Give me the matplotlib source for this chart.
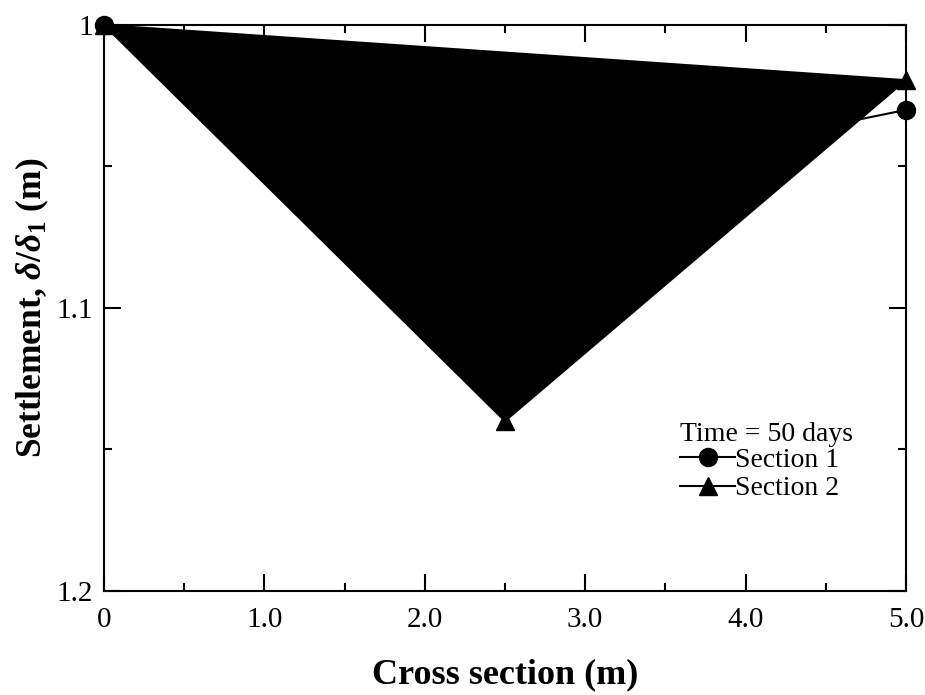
import numpy as np
import matplotlib.pyplot as plt
from matplotlib.ticker import MultipleLocator, FixedLocator

plt.rcParams['font.family'] = 'Liberation Serif'
plt.rcParams['mathtext.fontset'] = 'custom'
plt.rcParams['mathtext.rm'] = 'Liberation Serif:bold'
plt.rcParams['mathtext.it'] = 'Liberation Serif:italic:bold'
plt.rcParams['mathtext.bf'] = 'Liberation Serif:bold'

x = [0, 2.5, 5]
sec1 = [1.0, 1.059, 1.030]
sec2 = [1.0, 1.140, 1.0195]

xticks = [0, 1, 2, 3, 4, 5]
xticklabels = ['0', '1.0', '2.0', '3.0', '4.0', '5.0']
yticks = [1.0, 1.1, 1.2]
yticklabels = ['1', '1.1', '1.2']

fig = plt.figure(figsize=(9.25, 6.95), dpi=100)
ax = fig.add_axes([0.1124, 0.150, 0.867, 0.814])

ax.fill(x, sec2, color='k', lw=0)
ax.plot(x, sec1, 'k-', marker='o', ms=13, lw=1.5, label='Section 1', clip_on=False, zorder=3)
ax.plot(x, sec2, 'k-', marker='^', ms=13, lw=1.5, label='Section 2', clip_on=False, zorder=3)
# closing edge of the filled polygon
ax.plot([x[0], x[-1]], [sec2[0], sec2[-1]], 'k-', lw=1.5)

ax.set_xlim(0, 5)
ax.set_ylim(1.2, 1.0)
ax.set_xticks(xticks)
ax.set_xticklabels(xticklabels)
ax.set_yticks(yticks)
ax.set_yticklabels(yticklabels)
ax.xaxis.set_minor_locator(MultipleLocator(0.5))
ax.yaxis.set_minor_locator(FixedLocator([1.05, 1.15]))
ax.tick_params(which='both', direction='in', top=True, right=True, width=1.5, labelsize=21)
ax.tick_params(axis='x', pad=12)
ax.tick_params(axis='y', pad=8)
ax.tick_params(which='major', length=12)
ax.tick_params(which='minor', length=6)
for s in ax.spines.values():
    s.set_linewidth(1.5)

ax.set_xlabel('Cross section (m)', fontsize=26, fontweight='bold', labelpad=18)
ax.set_ylabel(r'Settlement, $\delta/\delta_{\mathit{1}}$ (m)', fontsize=25.5, fontweight='bold', labelpad=4)

leg = ax.legend(title='Time = 50 days', loc='upper left', bbox_to_anchor=(0.718, 0.298),
                frameon=False, fontsize=20, title_fontsize=20, handlelength=2.0,
                handletextpad=0.0, labelspacing=0.12, borderpad=0, borderaxespad=0)
leg._legend_box.align = 'left'
leg._legend_box.sep = 0

fig.savefig('out.png', dpi=100)
